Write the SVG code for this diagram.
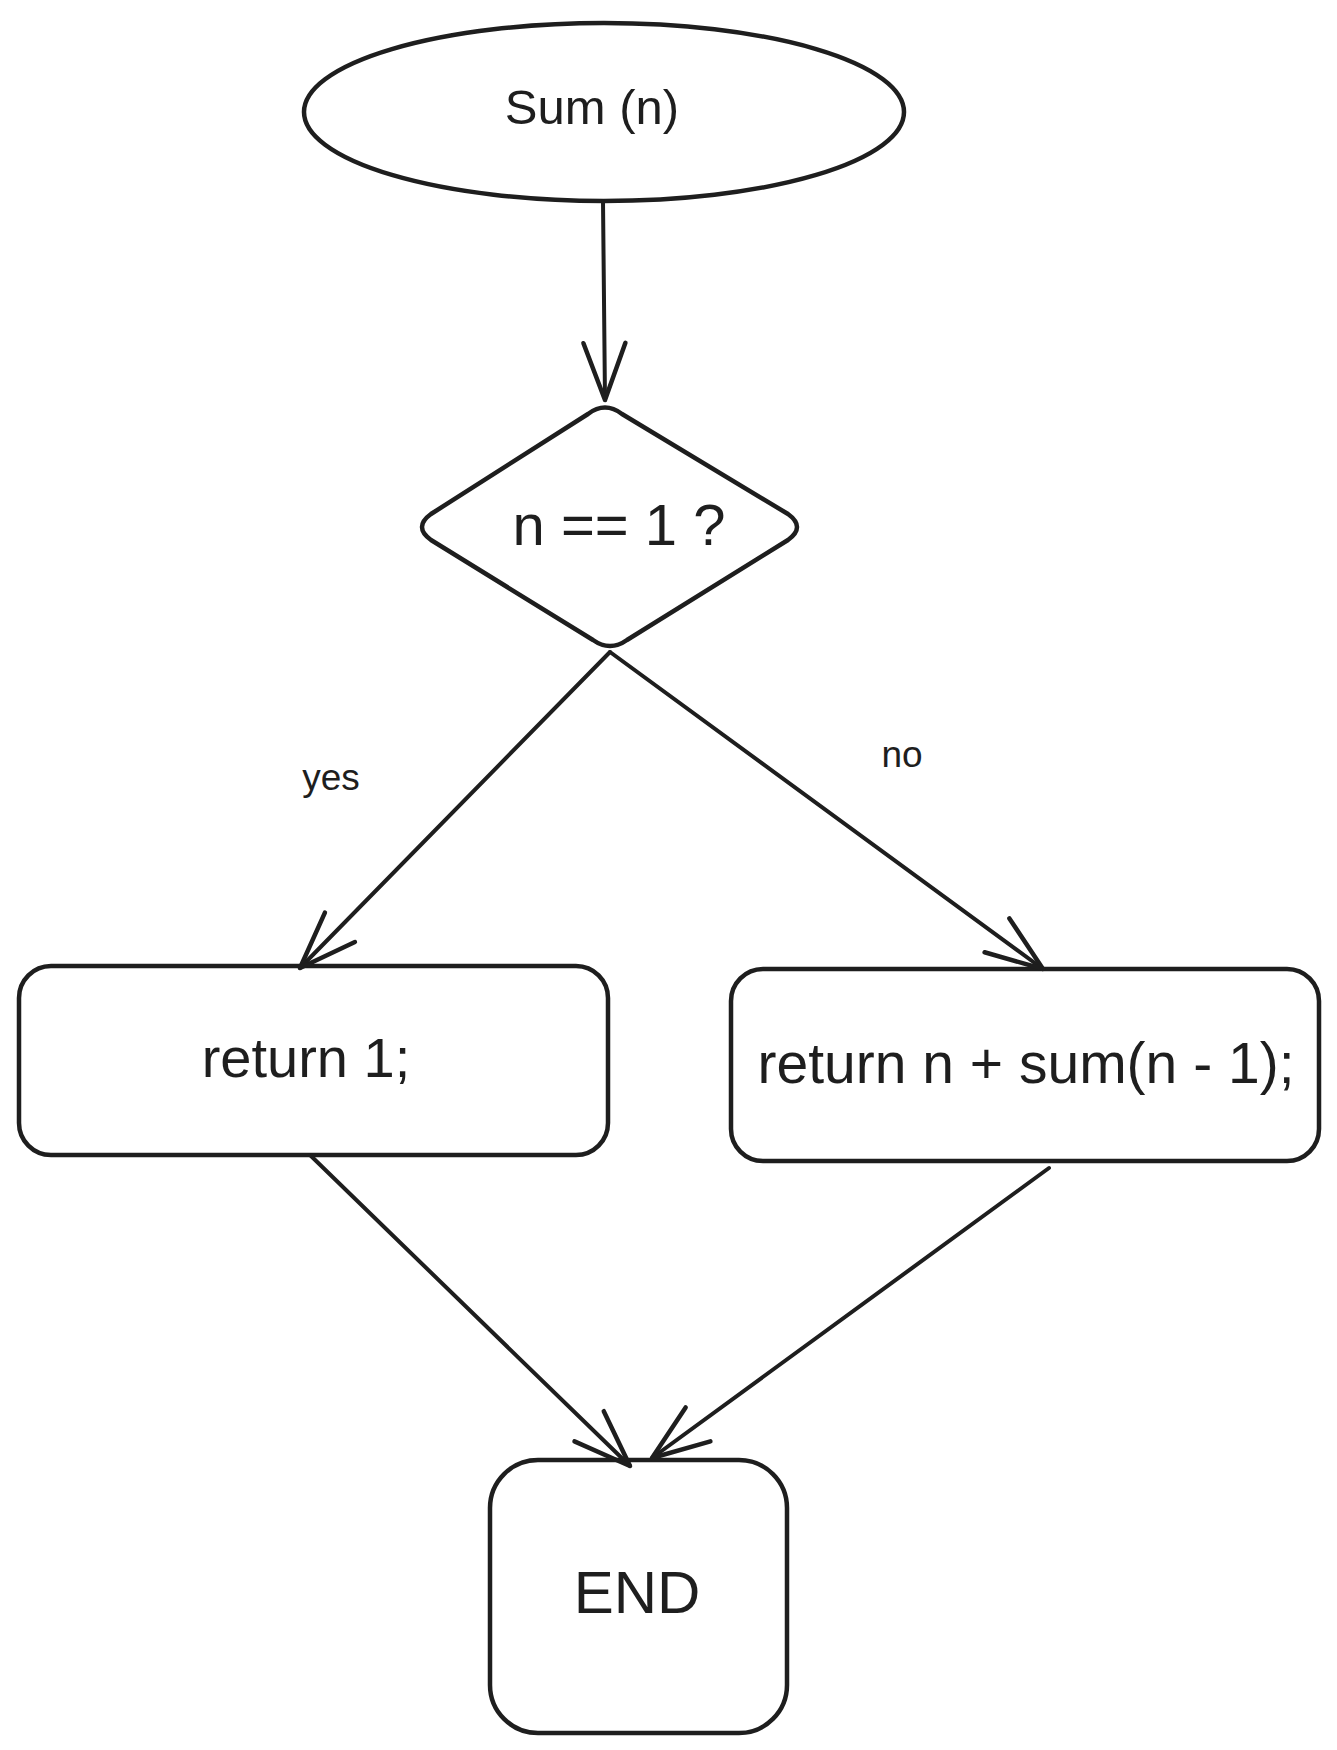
<svg xmlns="http://www.w3.org/2000/svg" width="1337" height="1750" viewBox="0 0 1337 1750">
<style>
.shape{fill:#ffffff;stroke:#1e1e1e;stroke-width:4.5;stroke-linejoin:round;stroke-linecap:round}
.conn{fill:none;stroke:#1e1e1e;stroke-width:4;stroke-linecap:round;stroke-linejoin:round}
.t{font-family:"Liberation Sans",Arial,Helvetica,sans-serif;fill:#1e1e1e;text-anchor:middle}
</style>
<defs>
<marker id="arrow" markerUnits="userSpaceOnUse" markerWidth="90" markerHeight="70" viewBox="-75 -35 90 70" refX="0" refY="0" orient="auto">
<path d="M -57 -21 L 0 0 L -57 21" fill="none" stroke="#1e1e1e" stroke-width="4.5" stroke-linecap="round" stroke-linejoin="round"/>
</marker>
</defs>
<rect width="1337" height="1750" fill="#ffffff"/>

<g id="start">
<ellipse class="shape" cx="604" cy="112" rx="300" ry="89"/>
<text class="t" x="592" y="124" font-size="49">Sum (n)</text>
</g>

<g id="decision">
<path class="shape" d="M 588 414 Q 605 401 622 414 L 788 514 Q 806 527 788 540 L 627 640 Q 610 652 593 640 L 431 540 Q 413 527 431 514 Z"/>
<text class="t" x="619" y="545" font-size="58">n == 1 ?</text>
</g>

<g id="return1">
<rect class="shape" x="19" y="966" width="589" height="189" rx="32" ry="32"/>
<text class="t" x="306" y="1077" font-size="56">return 1;</text>
</g>

<g id="returnSum">
<rect class="shape" x="731" y="969" width="588" height="192" rx="32" ry="32"/>
<text class="t" x="1026" y="1083" font-size="57">return n + sum(n - 1);</text>
</g>

<g id="end">
<rect class="shape" x="490" y="1460" width="297" height="273" rx="48" ry="48"/>
<text class="t" x="637" y="1613" font-size="60">END</text>
</g>

<g id="connectors">
<path class="conn" d="M 603 201 L 605 400" marker-end="url(#arrow)"/>
<path class="conn" d="M 610 652 L 300 968" marker-end="url(#arrow)"/>
<path class="conn" d="M 610 652 L 1043 969" marker-end="url(#arrow)"/>
<path class="conn" d="M 310 1155 L 630 1466" marker-end="url(#arrow)"/>
<path class="conn" d="M 1049 1168 L 652 1458" marker-end="url(#arrow)"/>
<text class="t" x="331" y="790" font-size="37">yes</text>
<text class="t" x="902" y="767" font-size="37">no</text>
</g>
</svg>
